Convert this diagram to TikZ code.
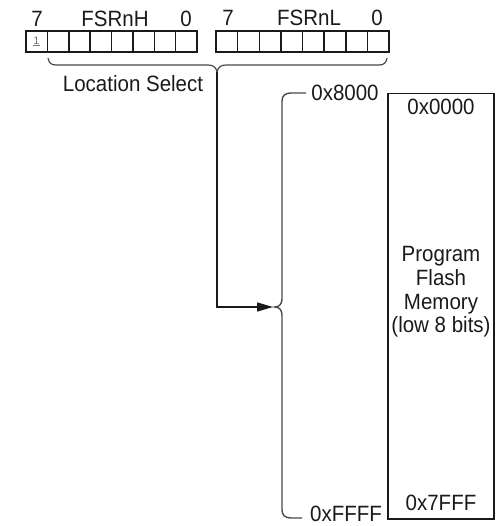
\documentclass[tikz,border=0pt]{standalone}
\usepackage{fontspec}
\setmainfont{Liberation Sans}
\usetikzlibrary{arrows.meta}
\definecolor{ink}{HTML}{1A1A1A}
\tikzset{
  lbl/.style={inner sep=0pt, anchor=base, text=ink, yscale=1.08, font=\fontsize{20.5}{23}\selectfont},
  cell/.style={draw=ink, line width=1.5pt},
  wire/.style={draw=ink, line width=1.4pt},
  brace/.style={draw=ink!80, line width=1.2pt}
}
\begin{document}
\begin{tikzpicture}[x=1pt,y=-1pt]
\useasboundingbox (0,0) rectangle (500,526);
% registers
\foreach \i in {0,...,7} \draw[cell] (26+\i*21.375,31) rectangle ++(21.375,21);
\foreach \i in {0,...,7} \draw[cell] (216+\i*21.625,31) rectangle ++(21.625,21);
\node[inner sep=0pt, text=ink!60, font=\fontsize{11}{12}\selectfont] (bit) at (36.5,41.5) {\underline{1}};
% bit labels
\node[lbl] (h7) at (37,26.5) {7};
\node[lbl] (hname) at (115,26.5) {FSRnH};
\node[lbl] (h0) at (186,26.5) {0};
\node[lbl] (l7) at (228,26) {7};
\node[lbl] (lname) at (309,26) {FSRnL};
\node[lbl] (l0) at (377,26) {0};
% location select brace
\draw[brace] (48,58) .. controls (49,63) and (51,65) .. (56,65) -- (208,65)
  .. controls (213,65) and (216,67) .. (217,72)
  .. controls (218,67) and (221,65) .. (226,65) -- (379,65)
  .. controls (384,65) and (386,63) .. (387,58);
\coordinate (selTip) at (217,72);
\node[lbl] (loc) at (133,92) {Location Select};
% range brace
\draw[brace, line width=1.4pt] (306,93) -- (291,93) .. controls (285,93) and (282,96) .. (282,101) -- (282,299)
  .. controls (282,304) and (279,307) .. (275,307)
  .. controls (279,307) and (282,310) .. (282,315) -- (282,510)
  .. controls (282,515) and (285,518) .. (291,518) -- (302,518);
\coordinate (arrEnd) at (273,307);
\draw[wire, -{Triangle[length=16pt,width=9pt]}] (selTip) |- (arrEnd);
\node[lbl] (a8000) at (345,101) {0x8000};
\node[lbl] (aFFFF) at (346,521.5) {0xFFFF};
% memory
\node[draw=ink, line width=1.5pt, minimum width=106pt, minimum height=425pt, inner sep=0pt, anchor=north west] (mem) at (387,93) {};
\node[lbl] (m0) at (441,115) {0x0000};
\node[lbl] (m7) at (441,510) {0x7FFF};
\node[inner sep=0pt, text=ink, align=center, yscale=1.08, font=\fontsize{20.5}{22}\selectfont] (mtext) at (441,292) {Program\\Flash\\Memory\\(low 8 bits)};
\end{tikzpicture}
\end{document}
